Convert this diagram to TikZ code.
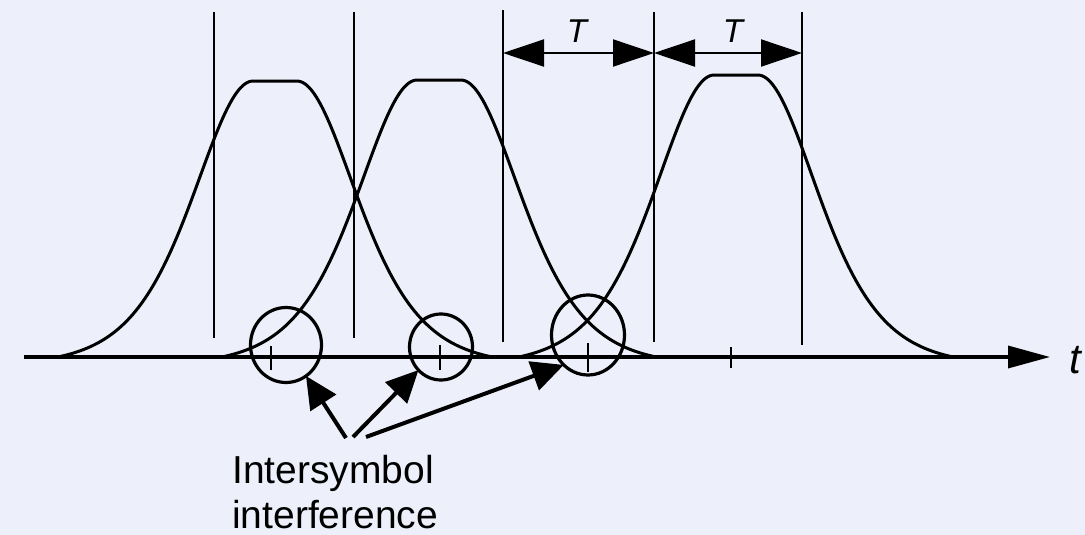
\documentclass[tikz,border=0pt]{standalone}
\usepackage{fontspec}
\setmainfont{Liberation Sans}
\usetikzlibrary{arrows.meta,shapes.geometric}
\definecolor{bg}{RGB}{237,240,250}
\begin{document}
\begin{tikzpicture}[x=1pt,y=-1pt,
  declare function={sh(\u)=4/(exp(\u)+exp(-\u))^2;
                    pulse(\t,\a)=\a*max(0,(sh(max(0,abs(\t)-22)/80)-0.03)/0.97);},
  vline/.style={line width=1.8pt},
  pulsecurve/.style={line width=3pt, line join=round},
  dim/.style={line width=2pt, {Triangle[length=41pt,width=27pt]}-{Triangle[length=41pt,width=27pt]}},
  axisline/.style={line width=3.5pt, -{Triangle[length=42pt,width=22pt]}},
  tick/.style={line width=1.8pt},
  isiring/.style={draw, ellipse, line width=3.2pt, inner sep=0pt, outer sep=0pt},
  isiarrow/.style={line width=4pt, -{Triangle[length=32pt,width=30pt]}},
  lab/.style={inner sep=0pt, font=\fontsize{33}{36}\selectfont\itshape},
  txt/.style={inner sep=0pt, align=left, font=\fontsize{39}{45}\selectfont}]
\fill[bg] (0,0) rectangle (1085,535);
\useasboundingbox (0,0) rectangle (1085,535);

% vertical symbol boundaries
\coordinate (v1t) at (214,12);  \coordinate (v1b) at (214,338);
\coordinate (v2t) at (354,12);  \coordinate (v2b) at (354,338);
\coordinate (v3t) at (503,10);  \coordinate (v3b) at (503,342);
\coordinate (v4t) at (654,12);  \coordinate (v4b) at (654,342);
\coordinate (v5t) at (802,12);  \coordinate (v5b) at (802,345);
\draw[vline] (v1t) -- (v1b);
\draw[vline] (v2t) -- (v2b);
\draw[vline] (v3t) -- (v3b);
\draw[vline] (v4t) -- (v4b);
\draw[vline] (v5t) -- (v5b);

% T dimension arrows
\coordinate (d3) at (503,53);
\coordinate (d4) at (654,53);
\coordinate (d5) at (802,53);
\draw[dim] (d3) -- (d4);
\draw[dim] (d4) -- (d5);
\node[lab] (T1) at (577,31) {T};
\node[lab] (T2) at (733,31) {T};

% pulses
\draw[pulsecurve] plot[domain=55:495, samples=221] (\x,{357-pulse(\x-275,276)});
\draw[pulsecurve] plot[domain=219:659, samples=221] (\x,{357-pulse(\x-439,277)});
\draw[pulsecurve] plot[domain=516:956, samples=221] (\x,{357-pulse(\x-736,282)});

% time axis
\coordinate (ax0) at (24,357);
\coordinate (ax1) at (1050,357);
\draw[axisline] (ax0) -- (ax1);
\node[inner sep=0pt, font=\fontsize{42}{46}\selectfont\itshape] (tl) at (1075,360) {t};

% sampling ticks
\draw[tick] (271,346) -- (271,370);
\draw[tick] (440,345) -- (440,370);
\draw[tick] (588,343) -- (588,372);
\draw[tick] (731,347) -- (731,368);

% ISI rings
\node[isiring, minimum width=71pt, minimum height=75pt] (c1) at (286,345) {};
\node[isiring, minimum width=63pt, minimum height=66pt] (c2) at (441,347) {};
\node[isiring, minimum width=73pt, minimum height=80pt] (c3) at (588,335) {};

% label and arrows
\node[txt, anchor=north west] (isi) at (232,455) {Intersymbol\\interference};
\coordinate (s1) at (346,438);
\coordinate (s2) at (353,437);
\coordinate (s3) at (366,437);
\draw[isiarrow] (s1) -- (c1);
\draw[isiarrow] (s2) -- (c2);
\draw[isiarrow] (s3) -- (c3.231);
\end{tikzpicture}
\end{document}
